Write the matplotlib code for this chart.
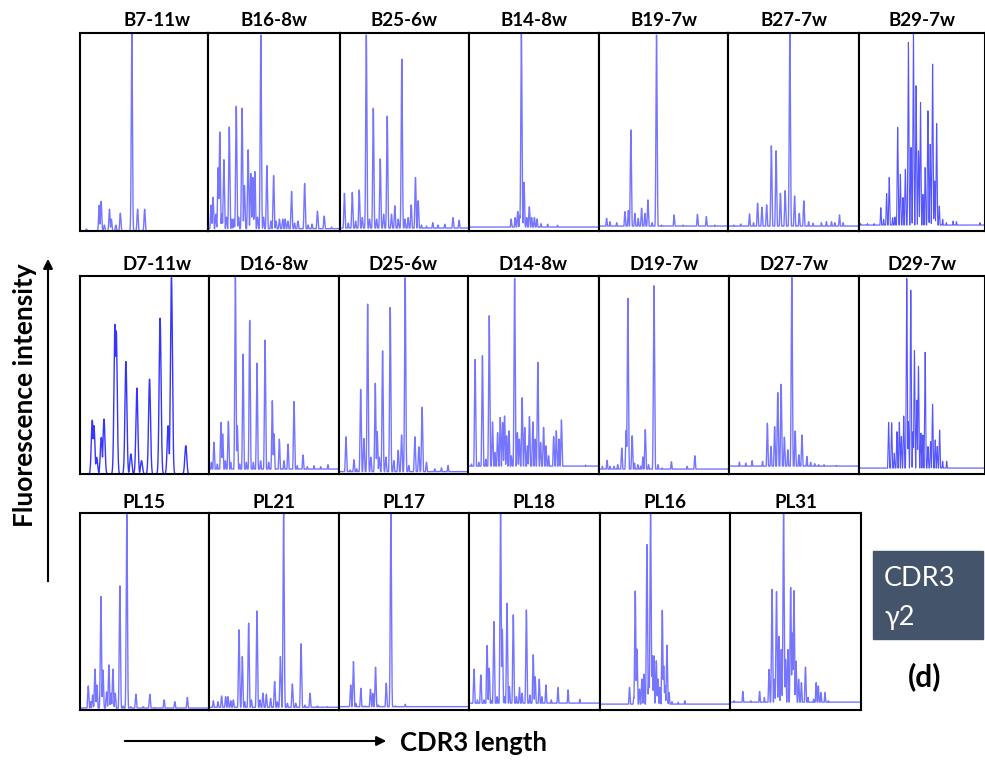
import numpy as np
import matplotlib
matplotlib.use('Agg')
import matplotlib.pyplot as plt

# peak positions (CDR3 length axis, 0-100) and peak intensities (0-100) per sample
b7_pos = [5, 15, 16.5, 19, 23, 24.5, 28, 31.5, 40.5, 45, 50.5]
b7_int = [1, 13, 15, 3, 11, 6, 3, 9, 100, 11, 11]
b16_pos = [2.3, 3.8, 5.9, 7.7, 8.9, 10.5, 12, 14, 16.1, 18.1, 19.6, 21.4, 23.2, 25.8, 27.6, 30.4, 32.4, 33.9, 35.5, 37.5,
           40, 42.1, 44.6, 47.7, 49.7, 51.5, 54.1, 56.6, 58.4, 60.5, 63.3, 65.6, 68.1, 73.2, 75.8, 78.8, 82.9, 88, 93.6]
b16_int = [13, 17, 8.5, 32, 50, 8.5, 36, 7, 52.5, 6, 6, 63, 7, 62, 23, 41, 29, 27, 30, 7,
           99, 7, 33, 5, 28, 5, 6, 6, 6, 5, 20, 4, 5, 24, 3, 3.5, 10, 7.5, 2]
b25_pos = [3.4, 6.4, 9.5, 12.1, 14.9, 17.3, 20.4, 22.9, 25.8, 28.4, 31.2, 33.8, 36.6, 39.9, 42.5, 45.1, 47.9, 50.3,
           52.8, 55.2, 58.5, 60.6, 63.1, 67, 71.9, 76, 81.2, 87.6, 92.3]
b25_int = [19, 4, 19.5, 5, 20.7, 6.8, 99, 6, 62, 6, 36.4, 8.5, 58, 8.5, 12.7, 6, 86.8, 6,
           6.8, 13.2, 27, 15.3, 3, 2.5, 4.2, 3, 3.4, 6.8, 5.4]
b14_pos = [32.4, 35.5, 37.5, 39, 40.3, 42.3, 44.4, 46.4, 48.2, 50.3, 52.3, 55.4, 60.5, 68.1]
b14_int = [6, 6.8, 9.8, 7.6, 100, 24.6, 6.8, 12.2, 6.8, 6.8, 6, 3.7, 3.4, 2.9]
b19_pos = [5.9, 8.5, 13.7, 20.1, 22.7, 24.7, 27.8, 30.4, 33, 35.6, 37.9, 41.2, 44.6, 48.5, 58.2, 65.2, 76.3, 83.2, 89.7]
b19_int = [6.4, 4.7, 4.2, 9.8, 10.3, 51, 8.9, 6.4, 11.5, 8.9, 15.7, 4.2, 99, 3, 8.1, 3, 8.4, 7.3, 3]
b27_pos = [4.6, 9.7, 16.4, 19.5, 22.6, 25.9, 29.5, 33.1, 36.7, 40, 43.6, 47.2, 50.8, 54.4, 57.9, 61.5, 64.9, 71.3,
           75.1, 79, 81.5, 85.1, 87.9]
b27_int = [3, 3.5, 8.6, 4.2, 14, 12, 13.2, 43, 40.5, 19, 20.4, 100, 17.7, 8.9, 15.2, 4.7, 3.9, 4.2,
           4.7, 4.7, 4.2, 8.1, 4.2]
b29_pos = [1.3, 6.7, 12, 17.3, 19.5, 21.9, 24, 26.7, 28.5, 30.7, 32.8, 34.9, 36.8, 39.2, 41.3, 43.2, 45.3, 47.2,
           48.8, 50.7, 52.5, 54.7, 56.5, 58.4, 60, 61.6, 63.7, 66.4, 69.3, 74.7, 77.3, 96]
b29_int = [3.7, 3.7, 3.7, 11.8, 5.9, 18.9, 27, 6.7, 7.1, 52.3, 28.7, 16.9, 31.2, 95.3, 42.2, 99.5, 73.4, 40.5,
           65, 18.5, 32, 60.7, 43.8, 84.3, 25.3, 54.3, 12.6, 5.9, 4.2, 5, 4.7, 4.2]

d7_pos = [9.5, 10.8, 12.9, 16.5, 18.6, 27.1, 28.1, 35.6, 39.4, 44.1, 47.7, 53.9, 62.1, 68.3, 70.9, 82]
d7_int = [27.2, 24.4, 8.4, 18.5, 27.7, 75.6, 72.3, 56.8, 10.1, 43.4, 6.7, 47.9, 78.7, 24.4, 99.2, 14.3]
d16_pos = [1.8, 3.8, 6.4, 9.2, 10.5, 12.6, 14.9, 16.7, 20.3, 21.8, 23.6, 26.2, 28.7, 31.3, 34.1, 36.9, 39.7, 43.1,
           45.9, 48.7, 50, 54.1, 57.7, 60.8, 65.4, 67.9, 72.3, 75.6, 80.8, 85.9, 91.5]
d16_int = [5.9, 16, 5, 26, 20.2, 6.7, 26.6, 5.9, 100, 24.4, 5, 60.5, 5.9, 77.6, 5.9, 56, 6.7, 67.6,
           5.9, 37, 20.2, 17.6, 6.7, 15.1, 36.6, 4.2, 9.6, 3.7, 4.2, 3.7, 4.7]
d25_pos = [5.4, 8.5, 11.6, 13.7, 16.8, 19.3, 22.2, 24.7, 28.1, 29.6, 31.2, 33.8, 36.3, 39.7, 42.5, 45.9, 48.5,
           51.3, 54.1, 58.8, 61.9, 64.4, 67.8, 74.2, 79.4, 84.5]
d25_int = [18.8, 2, 7.2, 2.6, 42.7, 17.9, 85.8, 8.5, 45.8, 21.4, 8.5, 62.2, 8.5, 84.1, 6.8, 12, 19.7,
           99.1, 4.3, 18.8, 13.7, 33.7, 6, 2.6, 3.1, 4.3]
d14_pos = [2.6, 5.4, 8.2, 11, 13.6, 16.2, 18.7, 20.5, 22.6, 24.6, 26.4, 27.9, 29.5, 31.3, 33.1, 35.6, 37.7, 39.2,
           41.3, 43.3, 45.4, 46.9, 49.5, 51.3, 53.3, 55.4, 57.7, 59.5, 61.5, 65.4, 67.4, 69.5, 71.3, 74.4, 89.7]
d14_int = [5, 57.8, 5.9, 59.8, 7.5, 79.9, 26.3, 10.9, 20.9, 28.5, 26, 29.3, 19.3, 21.8, 9.2, 98.8, 20.9, 17.6,
           38.5, 23.5, 14.2, 29, 26.3, 17.6, 56.4, 15.9, 23.5, 14.2, 9.2, 18.9, 21.8, 17.6, 27.3, 3.9, 4.5]
d19_pos = [2.6, 6.2, 8.5, 11.6, 14.4, 17.5, 20.9, 22.2, 25.5, 27.3, 29.9, 32, 33.8, 35.6, 38.1, 42.3, 45.4, 48.5,
           55.7, 67.8, 73.7]
d19_int = [3.9, 6.9, 3.9, 3.9, 4.7, 13.1, 22, 88.7, 19.3, 5.5, 4.7, 3.9, 8.6, 22.4, 4.7, 95.1, 4.7, 3,
           6.2, 3.9, 9.2]
d27_pos = [8, 12.9, 17.8, 25.8, 29.5, 32.3, 35.1, 37.5, 40.1, 42.6, 45.2, 48.3, 50.9, 53.7, 56.1, 59.9, 62.8, 65.9,
           69, 73.1, 82.7]
d27_int = [6, 5.5, 6.7, 6.4, 25.6, 13.9, 23.9, 41.1, 45.3, 18.6, 12.2, 99.2, 21.7, 9.7, 19.7, 8.9, 5.9, 5.2,
           4.7, 4.7, 4.3]
d29_pos = [23.5, 25.9, 28, 30.1, 32, 33.6, 35.5, 37.9, 39.2, 41.1, 42.9, 44, 45.9, 47.2, 49.1, 50.7, 52.5, 54.7,
           56.8, 58.4, 60.5, 62.1, 64, 66.4, 69.6]
d29_int = [26.1, 25.9, 10.5, 21.4, 26.1, 18.9, 29.3, 98.8, 26.4, 92.8, 21.4, 62.4, 37.3, 54.5, 20.6, 19.7, 61.5,
           13.9, 16.4, 35.3, 17.2, 13.9, 22.2, 6.4, 6.4]

pl15_pos = [6.4, 8.2, 9.8, 11.6, 13.1, 16.2, 17.8, 20.6, 22.4, 24, 25.5, 27.3, 30.9, 33.5, 36.3, 39.4, 43.3, 49,
            54.1, 58, 65.2, 73.5, 83.2]
pl15_int = [12.2, 4.2, 7.6, 20.7, 12.7, 57.6, 20.3, 9.2, 22.9, 8.5, 20.7, 8.5, 63, 2, 99.2, 1.7, 8, 1.7,
            8, 1.2, 5.1, 4.2, 6.4]
pl21_pos = [3.3, 6.9, 9.7, 12.8, 14.6, 16.7, 18.7, 23.1, 25.6, 27.4, 30.5, 32.6, 36.9, 39.2, 41.5, 44.1, 47.4,
            50.5, 52.6, 54.9, 57.4, 60.3, 64.1, 66.7, 70.8, 73.8, 77.7, 83.3, 91]
pl21_int = [4.7, 4.2, 7.1, 6.8, 6.8, 4.7, 5.1, 40.7, 27.1, 4.2, 44.1, 5.1, 50.3, 5.1, 8.5, 8, 5.9,
            14.4, 4.2, 27.1, 100, 3.4, 13.2, 3.4, 33.6, 2.5, 8.5, 2, 1.7]
pl17_pos = [9, 11.1, 12.9, 16.8, 20.1, 24.2, 26, 28.1, 30.4, 36.3, 39.9, 43.3, 51]
pl17_int = [12.7, 24.6, 3.4, 11, 2, 10.5, 8.5, 21.7, 2.5, 13.6, 100, 2, 2.9]
pl18_pos = [3.8, 6.4, 9, 11.5, 13.8, 15.4, 16.7, 19, 21.5, 24.1, 25.4, 26.9, 29, 30.8, 33.8, 36.2, 38.5, 40.5,
            43.8, 46.4, 49, 50.5, 53.6, 55.6, 58.7, 62.8, 67.9, 75.6, 84.6]
pl18_int = [20.7, 5.1, 17.8, 5.1, 32.7, 21.2, 5.1, 44.9, 6.8, 100, 41, 6.8, 54.2, 11.9, 48.3, 6.8, 11.5, 8.5,
            50.8, 7.6, 28, 16.9, 15.6, 6.8, 12.7, 5.1, 11.4, 10.2, 5.4]
pl16_pos = [22.7, 26, 27.1, 28.4, 30.4, 32.2, 33.8, 36.1, 37.6, 38.9, 40.2, 41.5, 43.3, 44.6, 46.1, 47.9, 49, 50,
            51.5, 53.1, 55.4, 60.1, 65.2]
pl16_int = [11.5, 6.4, 60.4, 30.9, 10.6, 15.7, 18.2, 84, 15.7, 100, 27.5, 27.5, 25, 15.7, 11.5, 50.6, 22.4, 12.3,
            32.9, 8.9, 4.2, 3.9, 4.7]
pl31_pos = [3.1, 9.8, 15.9, 22.6, 26.2, 29.8, 32.1, 33.9, 35.5, 37.3, 39.1, 40.9, 42.4, 44.2, 46.3, 47.6, 48.8,
            50.4, 52.4, 54.5, 57.6, 59.6, 63.8, 65.8, 67.4, 69.4, 72.5, 75.1]
pl31_int = [4.7, 9.4, 4.7, 9.4, 6.4, 20.6, 61.2, 15.6, 60.1, 37.4, 30.7, 99.5, 25.7, 30.7, 62.2, 39.1, 60.6,
            24.8, 15.6, 13.9, 21.8, 6.4, 5.5, 13.9, 12.2, 8.9, 8.9, 4.7]

row1_names = ['B7-11w', 'B16-8w', 'B25-6w', 'B14-8w', 'B19-7w', 'B27-7w', 'B29-7w']
row2_names = ['D7-11w', 'D16-8w', 'D25-6w', 'D14-8w', 'D19-7w', 'D27-7w', 'D29-7w']
row3_names = ['PL15', 'PL21', 'PL17', 'PL18', 'PL16', 'PL31']

row1_peaks = [(b7_pos, b7_int), (b16_pos, b16_int), (b25_pos, b25_int), (b14_pos, b14_int),
              (b19_pos, b19_int), (b27_pos, b27_int), (b29_pos, b29_int)]
row2_peaks = [(d7_pos, d7_int), (d16_pos, d16_int), (d25_pos, d25_int), (d14_pos, d14_int),
              (d19_pos, d19_int), (d27_pos, d27_int), (d29_pos, d29_int)]
row3_peaks = [(pl15_pos, pl15_int), (pl21_pos, pl21_int), (pl17_pos, pl17_int), (pl18_pos, pl18_int),
              (pl16_pos, pl16_int), (pl31_pos, pl31_int)]

# background level of each trace
row1_base = [0, 1.2, 1.5, 2, 2.5, 2.5, 3]
row2_base = [0, 2.5, 1.2, 4, 2.5, 4, 3]
row3_base = [1, 1.4, 1.7, 3.5, 3, 4]

W, H = 985, 763
fig = plt.figure(figsize=(W / 100, H / 100), dpi=100)
plt.rcParams['font.family'] = ['Lato', 'DejaVu Sans']

# panel edges in pixels: column edges, top, bottom, title centre
rows = [
    (row1_names, row1_peaks, row1_base, [80, 208, 340, 469, 599, 728, 859, 985], 33, 231, 20),
    (row2_names, row2_peaks, row2_base, [80, 209, 339, 468, 599, 729, 859, 985], 276, 474, 265),
    (row3_names, row3_peaks, row3_base, [80, 209, 339, 469, 600, 730, 861], 513, 710, 502),
]
dark = {'D7-11w', 'B29-7w', 'D29-7w'}
xs = np.linspace(0, 100, 4000)


def draw_trace(ax, pos, ints, base, width, color, alpha, lw):
    y = np.full_like(xs, base)
    for p, h in zip(pos, ints):
        y = np.maximum(y, h * np.exp(-0.5 * ((xs - p) / width) ** 2))
    ax.plot(xs, y, color=color, lw=lw, alpha=alpha)


for names, peaks, bases, edges, top, bottom, ty in rows:
    for i, name in enumerate(names):
        x0, x1 = edges[i], edges[i + 1]
        ax = fig.add_axes([x0 / W, 1 - bottom / H, (x1 - x0) / W, (bottom - top) / H])
        pos, ints = peaks[i]
        if name == 'D7-11w':
            draw_trace(ax, pos, ints, bases[i], 0.75, '#1f1fff', 0.9, 1.0)
        elif name in dark:
            draw_trace(ax, pos, ints, bases[i], 0.4, '#2a2aff', 0.8, 0.8)
        else:
            draw_trace(ax, pos, ints, bases[i], 0.45, '#3b3bff', 0.7, 1.0)
        ax.set_xlim(0, 100)
        ax.set_ylim(0, 100)
        ax.set_xticks([])
        ax.set_yticks([])
        for s in ax.spines.values():
            s.set_linewidth(1.5)
            s.set_color('black')
        shift = 13 if name.endswith('7-11w') else 0
        fig.text(((x0 + x1) / 2 + shift) / W, 1 - ty / H, name, ha='center', va='center',
                 fontsize=13.5, fontweight='bold')

# annotation layer in pixel coordinates
ov = fig.add_axes([0, 0, 1, 1], zorder=-1)
ov.set_xlim(0, W)
ov.set_ylim(H, 0)
ov.axis('off')
ov.annotate('', xy=(48, 256), xytext=(48, 584),
            arrowprops=dict(arrowstyle='-|>', color='black', lw=1.5, mutation_scale=14))
ov.text(25, 395, 'Fluorescence intensity', rotation=90, ha='center', va='center',
        fontsize=19, fontweight='bold')
ov.annotate('', xy=(389, 741), xytext=(122, 741),
            arrowprops=dict(arrowstyle='-|>', color='black', lw=1.5, mutation_scale=14))
ov.text(400, 743, 'CDR3 length', ha='left', va='center', fontsize=18.5, fontweight='bold')
ov.add_patch(plt.Rectangle((873, 551), 110, 88, color='#44546a'))
ov.text(884, 578, 'CDR3', ha='left', va='center', fontsize=19.5, color='white')
ov.text(884, 617, 'γ2', ha='left', va='center', fontsize=19.5, color='white')
ov.text(925, 677, '(d)', ha='center', va='center', fontsize=21.5, fontweight='bold')

fig.savefig('out.png', dpi=100)
